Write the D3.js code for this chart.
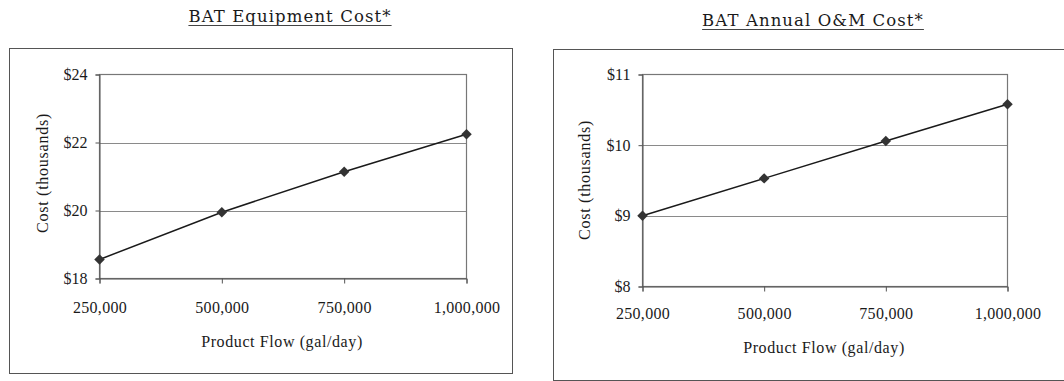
<!DOCTYPE html>
<html>
<head>
<meta charset="utf-8">
<script src="https://cdn.jsdelivr.net/npm/d3@7"></script>
<style>
  html, body { margin: 0; padding: 0; background: #fff; }
  svg { display: block; }
  text { font-family: "Liberation Serif", "Times New Roman", serif; fill: #1a1a1a; }
</style>
</head>
<body>
<svg id="chart" width="1064" height="381"></svg>
<script>
// ---- data ----
const flows = [250000, 500000, 750000, 1000000];
const xTicks = [250000, 500000, 750000, 1000000];
const equipmentCost = [18.56, 19.95, 21.14, 22.24];
const equipmentTicks = [18, 20, 22, 24];
const omCost = [9.0, 9.53, 10.06, 10.58];
const omTicks = [8, 9, 10, 11];
const titles = ["BAT Equipment Cost*", "BAT Annual O&M Cost*"];
const xLabel = "Product Flow (gal/day)";
const yLabel = "Cost (thousands)";

const svg = d3.select("#chart");

const panels = [
  { title: titles[0], values: equipmentCost, ticks: equipmentTicks,
    box: {x: 9.5, y: 48.5, w: 503, h: 325},
    plot: {l: 99.5, r: 466.5, t: 74.5, b: 278.5},
    titleX: 290, titleY: 22, ylabX: 48, ylabY: 173, xtY: 313, xlabX: 282, xlabY: 347 },
  { title: titles[1], values: omCost, ticks: omTicks,
    box: {x: 553.5, y: 49.5, w: 560, h: 331},
    plot: {l: 642.5, r: 1007.5, t: 74.5, b: 286.5},
    titleX: 813, titleY: 26, ylabX: 590, ylabY: 180, xtY: 319, xlabX: 824, xlabY: 353 }
];

panels.forEach(p => {
  const g = svg.append("g");
  // outer box
  g.append("rect").attr("x", p.box.x).attr("y", p.box.y)
    .attr("width", p.box.w).attr("height", p.box.h)
    .attr("fill", "none").attr("stroke", "#555").attr("stroke-width", 1);

  const x = d3.scaleLinear().domain([xTicks[0], xTicks[xTicks.length - 1]]).range([p.plot.l, p.plot.r]);
  const y = d3.scaleLinear().domain([p.ticks[0], p.ticks[p.ticks.length - 1]]).range([p.plot.b, p.plot.t]);

  // gridlines
  g.append("g").selectAll("line").data(p.ticks.slice(1, -1)).join("line")
    .attr("x1", p.plot.l).attr("x2", p.plot.r)
    .attr("y1", d => Math.round(y(d)) + 0.5).attr("y2", d => Math.round(y(d)) + 0.5)
    .attr("stroke", "#8a8a8a").attr("stroke-width", 1);

  // plot border
  g.append("rect").attr("x", p.plot.l).attr("y", p.plot.t)
    .attr("width", p.plot.r - p.plot.l).attr("height", p.plot.b - p.plot.t)
    .attr("fill", "none").attr("stroke", "#777").attr("stroke-width", 1.2);

  // y axis
  const yAxis = d3.axisLeft(y).tickValues(p.ticks).tickFormat(d => "$" + d).tickSize(4).tickPadding(8);
  const ya = g.append("g").attr("transform", `translate(${p.plot.l},0)`).call(yAxis);
  ya.select(".domain").attr("stroke", "#555");
  ya.selectAll(".tick line").attr("stroke", "#555");
  ya.selectAll(".tick text").attr("font-size", 16).attr("fill", "#1a1a1a")
    .style("font-family", '"Liberation Serif", serif');

  // x axis
  const xAxis = d3.axisBottom(x).tickValues(xTicks).tickFormat(d3.format(",")).tickSize(5).tickPadding(0);
  const xa = g.append("g").attr("transform", `translate(0,${p.plot.b})`).call(xAxis);
  xa.select(".domain").attr("stroke", "#555");
  xa.selectAll(".tick line").attr("stroke", "#555");
  xa.selectAll(".tick text").attr("font-size", 16).attr("fill", "#1a1a1a")
    .attr("letter-spacing", 0.3)
    .attr("dy", null).attr("y", p.xtY - p.plot.b)
    .style("font-family", '"Liberation Serif", serif');

  // line
  const line = d3.line().x((d, i) => x(flows[i])).y(d => y(d));
  g.append("path").datum(p.values).attr("d", line)
    .attr("fill", "none").attr("stroke", "#1a1a1a").attr("stroke-width", 1.5);

  // markers
  g.append("g").selectAll("path").data(p.values).join("path")
    .attr("d", d3.symbol().type(d3.symbolDiamond2).size(70))
    .attr("transform", (d, i) => `translate(${x(flows[i])},${y(d)})`)
    .attr("fill", "#333");

  // title + underline
  const t = g.append("text").attr("x", p.titleX).attr("y", p.titleY)
    .attr("text-anchor", "middle").attr("font-size", 16.5).attr("letter-spacing", 1.1)
    .style("font-family", '"DejaVu Serif", serif')
    .text(p.title);
  const tw = t.node().getComputedTextLength();
  g.append("line").attr("x1", p.titleX - tw / 2).attr("x2", p.titleX + tw / 2)
    .attr("y1", p.titleY + 3.5).attr("y2", p.titleY + 3.5)
    .attr("stroke", "#444").attr("stroke-width", 1);

  // axis labels
  g.append("text").attr("x", p.xlabX).attr("y", p.xlabY).attr("text-anchor", "middle")
    .attr("font-size", 16).attr("letter-spacing", 0.6).text(xLabel);
  g.append("text").attr("transform", `translate(${p.ylabX},${p.ylabY}) rotate(-90)`)
    .attr("text-anchor", "middle").attr("font-size", 16).attr("letter-spacing", 0.75).text(yLabel);
});
</script>
</body>
</html>
